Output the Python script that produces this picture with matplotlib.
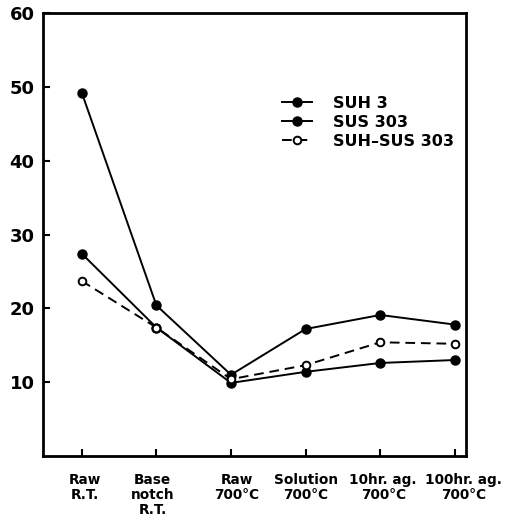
import matplotlib
matplotlib.use("Agg")
import matplotlib.pyplot as plt
import matplotlib.transforms as mtransforms

categories = ["Raw\nR.T.", "Base\nnotch\nR.T.", "Raw\n700°C", "Solution\n700°C",
              "10hr. ag.\n700°C", "100hr. ag.\n700°C"]
suh3 = [49.2, 20.4, 11.0, 17.2, 19.1, 17.8]
sus303 = [27.4, 17.4, 9.9, 11.4, 12.6, 13.0]
suh_sus303 = [23.7, 17.4, 10.4, 12.3, 15.4, 15.2]
yticks = [10, 20, 30, 40, 50, 60]

plt.rcParams['font.family'] = ['DejaVu Sans']

fig = plt.figure(figsize=(5.16, 5.30), dpi=100)
ax = fig.add_axes([43/516, (530-456)/530, (466-43)/516, (456-13)/530])

x = list(range(1, len(categories) + 1))
ax.plot(x, suh3, color='black', lw=1.4, marker='o', ms=6.5, mfc='black', mec='black', label='SUH 3')
ax.plot(x, sus303, color='black', lw=1.4, marker='o', ms=6.5, mfc='black', mec='black', label='SUS 303')
ax.plot(x, suh_sus303, color='black', lw=1.4, ls=(0, (5, 3)), marker='o', ms=5.5, mfc='white',
        mec='black', mew=1.4, label='SUH\u2013SUS 303')

ax.set_xlim(0.48, 6.15)
ax.set_ylim(0, 60)
ax.set_xticks(x)
ax.set_xticklabels(categories, fontsize=9.8, fontweight='bold', linespacing=1.1)
ax.set_yticks(yticks)
ax.set_yticklabels([str(v) for v in yticks], fontsize=13, fontweight='bold')
ax.tick_params(axis='both', direction='in', length=5, width=1.5, color='black')
ax.tick_params(axis='x', pad=12)
ax.tick_params(axis='y', pad=6)
for s in ax.spines.values():
    s.set_linewidth(2)
    s.set_color('black')

# small horizontal nudges of x tick labels as in the reference
shifts = [3, -4, 6, 0, 3, 9]
for lab, dx in zip(ax.get_xticklabels(), shifts):
    lab.set_transform(lab.get_transform() + mtransforms.ScaledTranslation(dx/100, 0, fig.dpi_scale_trans))

leg = ax.legend(loc='upper left', bbox_to_anchor=(282/516, 1 - 96/530), bbox_transform=fig.transFigure,
                frameon=False, fontsize=11.5, handlelength=1.9, handletextpad=1.3,
                labelspacing=0.25, borderpad=0, borderaxespad=0)
for t in leg.get_texts():
    t.set_fontweight('bold')

fig.savefig("out.png", dpi=100)
